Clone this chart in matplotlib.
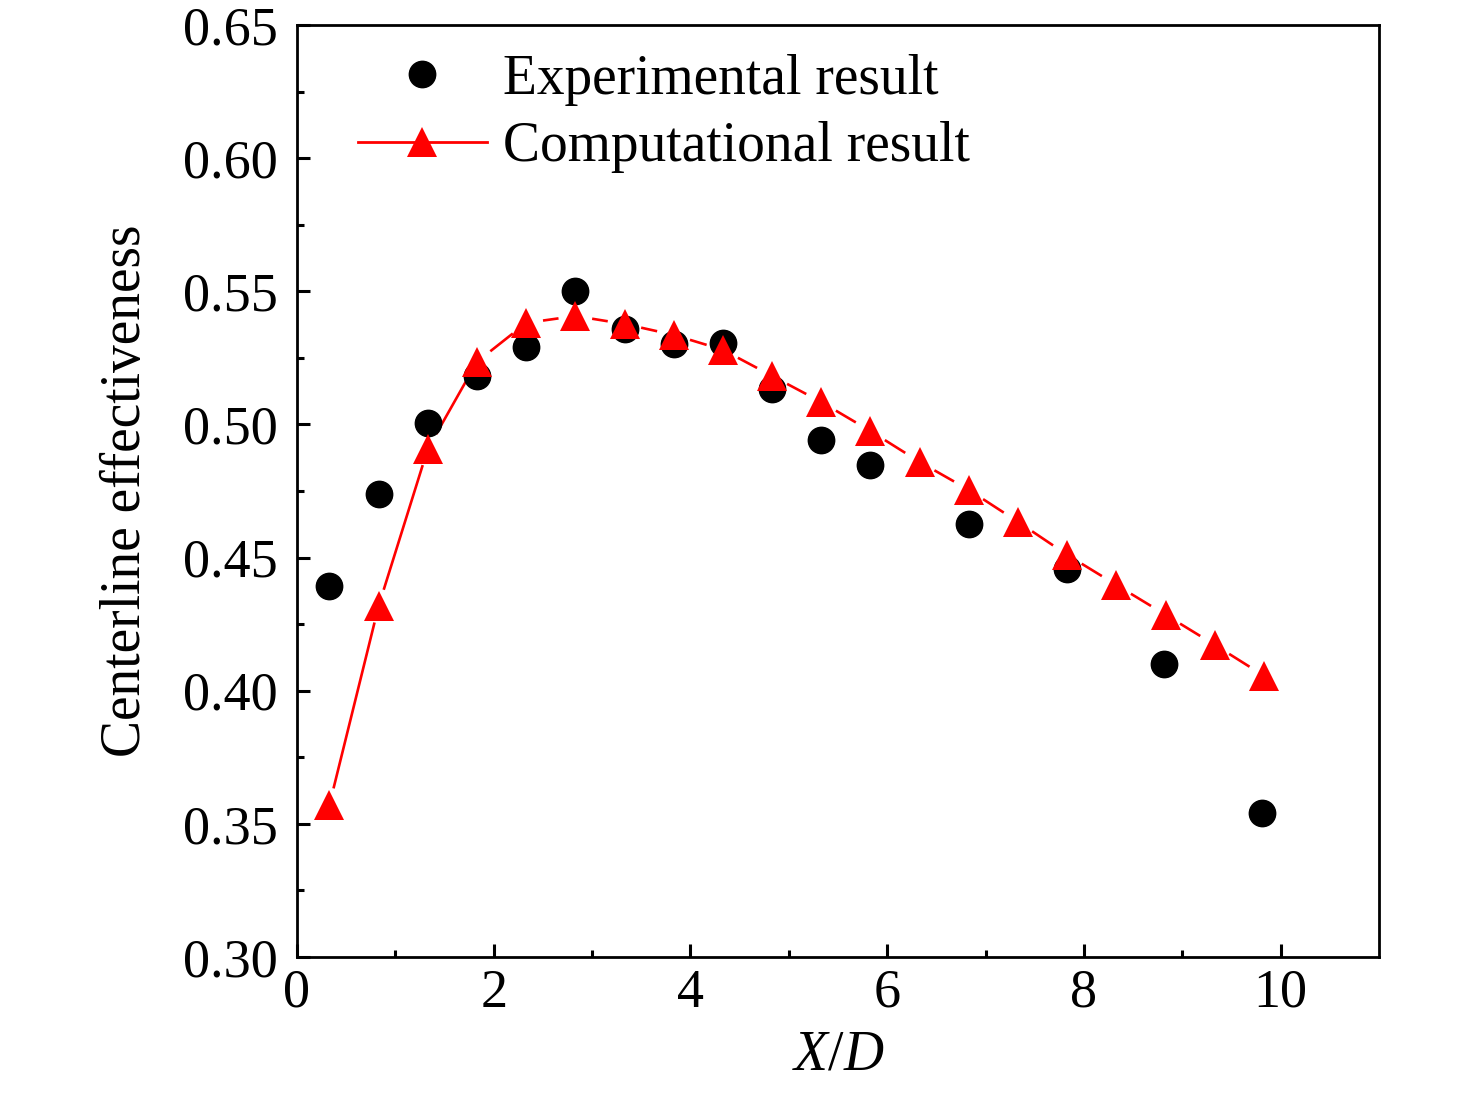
import numpy as np
import matplotlib
matplotlib.use("Agg")
import matplotlib.pyplot as plt
from matplotlib.lines import Line2D

plt.rcParams['font.family'] = ['Liberation Serif', 'DejaVu Serif']
plt.rcParams['mathtext.fontset'] = 'custom'
plt.rcParams['mathtext.it'] = 'Liberation Serif:italic'

exp_x = [0.33, 0.83, 1.33, 1.83, 2.33, 2.83, 3.33, 3.83, 4.33, 4.83, 5.33, 5.83, 6.83, 7.83, 8.81, 9.81]
exp_y = [0.4393, 0.4739, 0.5005, 0.5182, 0.5291, 0.5501, 0.5358, 0.5302, 0.5305, 0.5133, 0.4942, 0.4848, 0.4626, 0.4457, 0.4101, 0.3541]

comp_x = [0.33, 0.83, 1.33, 1.83, 2.33, 2.83, 3.33, 3.83, 4.33, 4.83, 5.33, 5.83, 6.33, 6.83, 7.33, 7.83, 8.33, 8.83, 9.33, 9.83]
comp_y = [0.3571, 0.4318, 0.4908, 0.5235, 0.5381, 0.5407, 0.5377, 0.5336, 0.5280, 0.5182, 0.5084, 0.4975, 0.4859, 0.4754, 0.4634, 0.4510, 0.4397, 0.4285, 0.4172, 0.4056]

fig = plt.figure(figsize=(14.76, 11.09), dpi=100)
ax = fig.add_axes([0.2012, 0.1371, 0.9343 - 0.2012, 0.9775 - 0.1371])
ax.set_xlim(0, 11)
ax.set_ylim(0.30, 0.65)

red = '#ff0000'
# line segments with gaps around markers
gap = 17.0
pts = ax.transData.transform(np.column_stack([comp_x, comp_y]))
inv = ax.transData.inverted()
for i in range(len(pts) - 1):
    p0, p1 = pts[i], pts[i + 1]
    d = p1 - p0
    L = np.hypot(*d)
    if L <= 2 * gap:
        continue
    u = d / L
    a = inv.transform(p0 + u * gap)
    b = inv.transform(p1 - u * gap)
    ax.plot([a[0], b[0]], [a[1], b[1]], color=red, lw=1.9, solid_capstyle='butt', zorder=2)

ax.plot(exp_x, exp_y, 'o', color='black', ms=19, zorder=3, linestyle='none')
ax.plot(comp_x, comp_y, '^', color=red, ms=21, zorder=4, linestyle='none', markeredgewidth=0)

h1 = Line2D([], [], marker='o', color='black', ms=19, linestyle='none')
h2 = Line2D([], [], marker='^', color=red, ms=21, lw=2.0, markeredgewidth=0)
leg = ax.legend([h1, h2], ['Experimental result', 'Computational result'],
                loc='upper left', bbox_to_anchor=(0.056, 0.969), frameon=False,
                fontsize=40, handlelength=2.33, handletextpad=0.29,
                borderaxespad=0, borderpad=0, labelspacing=0.28, numpoints=1)

ax.set_xticks([0, 2, 4, 6, 8, 10])
ax.set_xticks([1, 3, 5, 7, 9], minor=True)
ax.set_yticks([0.30, 0.35, 0.40, 0.45, 0.50, 0.55, 0.60, 0.65])
ax.set_yticks(np.arange(0.325, 0.65, 0.05), minor=True)
ax.set_yticklabels(['0.30', '0.35', '0.40', '0.45', '0.50', '0.55', '0.60', '0.65'])

ax.tick_params(axis='both', which='both', direction='in', top=False, right=False,
               labelsize=39, width=2.2)
ax.tick_params(axis='both', which='major', length=9.5)
ax.tick_params(axis='both', which='minor', length=5)
ax.tick_params(axis='y', which='major', pad=14)
ax.tick_params(axis='x', which='major', pad=8)
for s in ax.spines.values():
    s.set_linewidth(2)

ax.set_ylabel('Centerline effectiveness', fontsize=40, labelpad=22)
ax.set_xlabel(r'$X$/$D$', fontsize=40, labelpad=8)

fig.savefig('out.png', dpi=100)
